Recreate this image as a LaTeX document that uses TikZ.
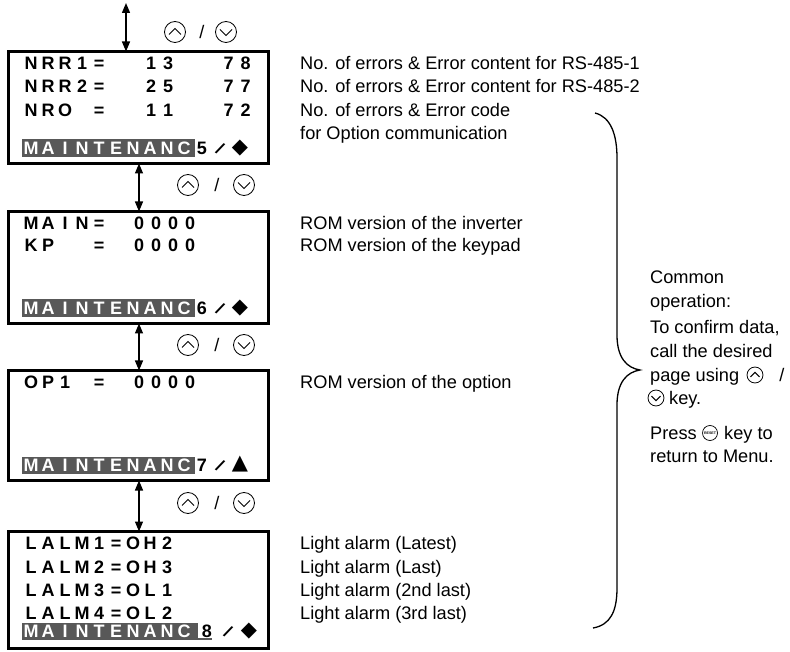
\documentclass[tikz,border=0pt]{standalone}
\usepackage{fontspec}
\usepackage{graphicx}
\setmainfont{Liberation Sans}
\newfontfamily\symfont{DejaVu Sans}
\usetikzlibrary{arrows.meta}
\newlength\lcdcw \setlength\lcdcw{17pt}
\makeatletter
\def\lcdstr#1{\lcd@i#1\relax}
\def\lcd@i#1{\ifx#1\relax\else\makebox[\lcdcw][c]{#1}\expandafter\lcd@i\fi}
\makeatother
\newcommand\lcdslash{\rotatebox[origin=c]{-33}{\bfseries /}}
\definecolor{barcol}{RGB}{88,88,88}
\begin{document}
\begin{tikzpicture}[x=1pt,y=-1pt,
  lcdbox/.style={draw, line width=3pt, minimum width=260pt, inner sep=0pt},
  lcd/.style={anchor=base west, inner sep=0pt, font=\fontsize{18}{18}\selectfont\bfseries},
  lcdw/.style={lcd, text=white},
  lcdc/.style={anchor=base, inner sep=0pt, font=\fontsize{18}{18}\selectfont\bfseries},
  lcds/.style={anchor=center, inner sep=0pt, font=\fontsize{17}{17}\selectfont},
  lcdm/.style={anchor=center, inner sep=0pt, font=\fontsize{21}{21}\selectfont\symfont},
  bar/.style={fill=barcol, draw=none},
  lbl/.style={anchor=base west, inner sep=0pt, font=\fontsize{18.2}{20}\selectfont},
  dbl/.style={line width=1.4pt, {Triangle[length=10pt,width=8pt]}-{Triangle[length=10pt,width=8pt]}},
  upkey/.pic={\draw[line width=0.8pt] (0,0) circle[radius=10.5pt];
              \draw[line width=1pt] (-6,2.5) -- (0,-3.5) -- (6,2.5);},
  downkey/.pic={\draw[line width=0.8pt] (0,0) circle[radius=10.5pt];
              \draw[line width=1pt] (-6,-2.5) -- (0,3.5) -- (6,-2.5);},
]
\useasboundingbox (0,0) rectangle (790,652);

% ---------- boxes ----------
\node[lcdbox, minimum height=112pt] (b1) at (138.5,107.5) {};
\node[lcdbox, minimum height=112pt] (b2) at (138.5,267.5) {};
\node[lcdbox, minimum height=110pt] (b3) at (138.5,425.5) {};
\node[lcdbox, minimum height=117pt] (b4) at (138.5,590) {};

% ---------- connectors ----------
\coordinate (top) at (126,3);
\draw[dbl] (top) -- ([xshift=-12.5pt,yshift=-1.5pt]b1.north);
\draw[dbl] ([xshift=0.5pt,yshift=1.5pt]b1.south) -- ([xshift=0.5pt,yshift=-1.5pt]b2.north);
\draw[dbl] ([xshift=0.5pt,yshift=1.5pt]b2.south) -- ([xshift=0.5pt,yshift=-1.5pt]b3.north);
\draw[dbl] ([xshift=0.5pt,yshift=1.5pt]b3.south) -- ([xshift=0.5pt,yshift=-1.5pt]b4.north);

% ---------- up/down keys ----------
\pic at (175,32) {upkey};
\node[lbl, anchor=base] (s1) at (202,38.5) {/};
\pic at (226,32) {downkey};
\pic at (188,185) {upkey};
\node[lbl, anchor=base] (s2) at (217,191.5) {/};
\pic at (244,185) {downkey};
\pic at (188,345) {upkey};
\node[lbl, anchor=base] (s3) at (217,351.5) {/};
\pic at (244,345) {downkey};
\pic at (188,503) {upkey};
\node[lbl, anchor=base] (s4) at (217,509.5) {/};
\pic at (244,503) {downkey};

% ---------- box 1 ----------
\node[lcd] (t11) at (22.5,69.5) {\lcdstr{NRR1=}};
\node[lcd] (t12) at (142.5,69.5) {\lcdstr{13}};
\node[lcd] (t13) at (220,69.5) {\lcdstr{78}};
\node[lcd] (t21) at (22.5,92.5) {\lcdstr{NRR2=}};
\node[lcd] (t22) at (142.5,92.5) {\lcdstr{25}};
\node[lcd] (t23) at (220,92.5) {\lcdstr{77}};
\node[lcd] (t31) at (22.5,116.5) {\lcdstr{NRO}};
\node[lcd] (t32) at (90.5,116.5) {\lcdstr{=}};
\node[lcd] (t33) at (142.5,116.5) {\lcdstr{11}};
\node[lcd] (t34) at (220,116.5) {\lcdstr{72}};
\fill[bar] (22,139.5) rectangle (195,157);
\node[lcdw] (m1) at (22.5,154.5) {\lcdstr{MAINTENANC}};
\node[lcdc] (p1) at (202,154.5) {5};
\node[lcds] (q1) at (220,148.5) {\lcdslash};
\node[lcdm] (r1) at (240,148.2) {◆};

% ---------- box 2 ----------
\node[lcd] (u11) at (22.5,229.5) {\lcdstr{MAIN=}};
\node[lcd] (u12) at (130.5,229.5) {\lcdstr{0000}};
\node[lcd] (u21) at (22.5,251.5) {\lcdstr{KP}};
\node[lcd] (u22) at (90.5,251.5) {\lcdstr{=}};
\node[lcd] (u23) at (130.5,251.5) {\lcdstr{0000}};
\fill[bar] (22,299.5) rectangle (195,317);
\node[lcdw] (m2) at (22.5,314.5) {\lcdstr{MAINTENANC}};
\node[lcdc] (p2) at (202,314.5) {6};
\node[lcds] (q2) at (220,308.5) {\lcdslash};
\node[lcdm] (r2) at (240,308.2) {◆};

% ---------- box 3 ----------
\node[lcd] (v11) at (22.5,388.5) {\lcdstr{OP1}};
\node[lcd] (v12) at (90.5,388.5) {\lcdstr{=}};
\node[lcd] (v13) at (130.5,388.5) {\lcdstr{0000}};
\fill[bar] (22,456.5) rectangle (195,474);
\node[lcdw] (m3) at (22.5,471.5) {\lcdstr{MAINTENANC}};
\node[lcdc] (p3) at (202,471.5) {7};
\node[lcds] (q3) at (220,465.5) {\lcdslash};
\node[lcdm] (r3) at (240,464.5) {▲};

% ---------- box 4 ----------
\node[lcd] (w1) at (22.5,549.5) {\lcdstr{LALM1=OH2}};
\node[lcd] (w2) at (22.5,573.5) {\lcdstr{LALM2=OH3}};
\node[lcd] (w3) at (22.5,596.5) {\lcdstr{LALM3=OL1}};
\node[lcd] (w4) at (22.5,619.5) {\lcdstr{LALM4=OL2}};
\fill[bar] (22,622.5) rectangle (198,640);
\fill[bar] (198,637.5) rectangle (212,640);
\node[lcdw] (m4) at (22.5,637.5) {\lcdstr{MAINTENANC}};
\node[lcdc] (p4) at (207,637.5) {8};
\node[lcds] (q4) at (228,631.5) {\lcdslash};
\node[lcdm] (r4) at (249,631.2) {◆};

% ---------- labels ----------
\node[lbl] (l1) at (300,69.5) {No. of errors \& Error content for RS-485-1};
\node[lbl] (l2) at (300,92.5) {No. of errors \& Error content for RS-485-2};
\node[lbl] (l3) at (300,116.5) {No. of errors \& Error code};
\node[lbl] (l4) at (300,139.5) {for Option communication};
\node[lbl] (l5) at (300,229.5) {ROM version of the inverter};
\node[lbl] (l6) at (300,251.5) {ROM version of the keypad};
\node[lbl] (l7) at (300,388.5) {ROM version of the option};
\node[lbl] (l8) at (300,549.5) {Light alarm (Latest)};
\node[lbl] (l9) at (300,573.5) {Light alarm (Last)};
\node[lbl] (l10) at (300,596.5) {Light alarm (2nd last)};
\node[lbl] (l11) at (300,619.5) {Light alarm (3rd last)};

% ---------- brace ----------
\draw[line width=1.3pt] (595,113) .. controls (611,117) and (617,135) .. (617,158)
  -- (617,335) .. controls (617,358) and (627,368) .. (640,370)
  .. controls (627,372) and (617,382) .. (617,405)
  -- (617,588) .. controls (617,612) and (610,625) .. (593,628);

% ---------- common operation ----------
\node[lbl] (c1) at (650,283.5) {Common};
\node[lbl] (c2) at (650,307.5) {operation:};
\node[lbl] (c3) at (650,333.5) {To confirm data,};
\node[lbl] (c4) at (650,357.5) {call the desired};
\node[lbl] (c5) at (650,381.5) {page using};
\pic[scale=0.76] at (755,375) {upkey};
\node[lbl, anchor=base] (c6) at (782,381.5) {/};
\pic[scale=0.76] at (656,398) {downkey};
\node[lbl] (c7) at (669,404.5) {key.};
\node[lbl] (c8) at (650,439.5) {Press};
\draw[line width=0.7pt] (710,433) circle[radius=7.5pt];
\node[inner sep=0pt, font=\fontsize{3.6}{4}\selectfont\bfseries] (rs) at (710,433) {RESET};
\node[lbl] (c9) at (724,439.5) {key to};
\node[lbl] (c10) at (650,462.5) {return to Menu.};
\end{tikzpicture}
\end{document}
